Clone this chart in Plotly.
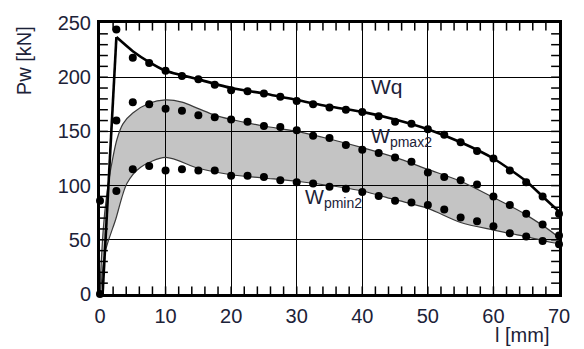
import plotly.graph_objects as go

# ---- data ----
x_pts = [0, 2.5, 5, 7.5, 10, 12.5, 15, 17.5, 20, 22.5, 25, 27.5, 30, 32.5, 35,
         37.5, 40, 42.5, 45, 47.5, 50, 52.5, 55, 57.5, 60, 62.5, 65, 67.5, 70]
wq_pts = [None, 244, 218, 213, 206, 201, 198, 193, 188, 187, 185, 182, 178, 175, 172,
          170, 168, 164, 159, 157, 152, 147, 140, 132, 125, 114, 103, 90, 74]
wpmax_pts = [86, 160, 177, 175, 171, 169, 165, 163, 161, 159, 155, 154, 151, 146, 144,
             137.5, 133, 130, 126, 122, 112, 108, 105, 101, 90, 82, 74, 64, 54]
wpmin_pts = [0, 95, 115, 118, 114, 115, 114, 114, 109, 109, 108, 105, 103, 102, 99,
             97, 94, 90.5, 86, 84.5, 82, 78, 70.5, 67, 62.5, 56, 53, 49, 46]

# fitted curves
wq_rise_x = [0.4, 2.5]
wq_rise_y = [0, 237]
wq_curve_x = [2.5, 5, 7.5, 10, 15, 20, 25, 30, 35, 40, 45, 50, 55, 60, 65, 67.5, 70]
wq_curve_y = [237, 224, 214, 206, 198, 190, 185, 179, 173, 168, 161, 152, 140, 125, 104, 90, 76]

upper_x = [0, 0.5, 1, 1.6, 2.6, 3.5, 5, 7.5, 10, 12.5, 15, 17.5, 20, 25, 30, 35, 40, 45, 50, 55, 60, 65, 70]
upper_y = [0, 60, 90, 114, 143, 157, 167, 176, 179, 177, 171, 165, 161, 155, 150, 143, 135, 126, 115, 104, 89, 73, 51]
lower_x = [0, 0.8, 2.4, 4.1, 6.2, 10, 15, 20, 25, 30, 35, 40, 45, 50, 55, 60, 65, 70]
lower_y = [0, 39, 69, 102, 117, 126, 116, 110, 107, 104, 100, 95, 87, 79, 66, 59, 53, 47]

# small inside tick positions
x_minor_ticks = [2, 4, 6, 8, 10, 12, 14, 16, 18, 20, 22, 24, 26, 28, 30, 32, 34, 36,
                 38, 40, 42, 44, 46, 48, 50, 52, 54, 56, 58, 60, 62, 64, 66, 68]
y_minor_ticks = [10, 20, 30, 40, 50, 60, 70, 80, 90, 100, 110, 120, 130, 140, 150,
                 160, 170, 180, 190, 200, 210, 220, 230, 240]

X_RANGE = [0, 70]
Y_RANGE = [0, 250]
TICK_DX = 1.2   # tick length in x units (~8 px)
TICK_DY = 7.0   # tick length in y units (~8 px)

FONT = "Liberation Sans, Arial, sans-serif"
TXT = "#1c2238"

fig = go.Figure()

band_x = upper_x + lower_x[::-1]
band_y = upper_y + lower_y[::-1]
fig.add_trace(go.Scatter(x=band_x, y=band_y, mode="lines", fill="toself",
                         fillcolor="rgba(0,0,0,0.23)",
                         line=dict(color="#3a3a3a", width=1.2, shape="spline", smoothing=0.8),
                         hoverinfo="skip", showlegend=False))

fig.add_trace(go.Scatter(x=wq_rise_x, y=wq_rise_y, mode="lines",
                         line=dict(color="black", width=2.6), showlegend=False))
fig.add_trace(go.Scatter(x=wq_curve_x, y=wq_curve_y, mode="lines",
                         line=dict(color="black", width=2.6, shape="spline", smoothing=0.6),
                         showlegend=False))

marker = dict(color="black", size=8)
for ys in (wq_pts, wpmax_pts, wpmin_pts):
    fig.add_trace(go.Scatter(x=x_pts, y=ys, mode="markers", marker=marker,
                             cliponaxis=False, showlegend=False))

# tick marks on all four sides, built from the tick position lists
tx, ty = [], []
for xv in x_minor_ticks:
    tx += [xv, xv, None, xv, xv, None]
    ty += [Y_RANGE[0], Y_RANGE[0] + TICK_DY, None, Y_RANGE[1] - TICK_DY, Y_RANGE[1], None]
for yv in y_minor_ticks:
    tx += [X_RANGE[0], X_RANGE[0] + TICK_DX, None, X_RANGE[1] - TICK_DX, X_RANGE[1], None]
    ty += [yv, yv, None, yv, yv, None]
fig.add_trace(go.Scatter(x=tx, y=ty, mode="lines", line=dict(color="black", width=1.5),
                         hoverinfo="skip", showlegend=False, connectgaps=False))

axis_common = dict(
    showline=True, linecolor="black", linewidth=3, mirror=True,
    showgrid=True, gridcolor="black", gridwidth=1.2,
    ticks="", zeroline=False, ticklabelstandoff=2,
    tickfont=dict(family=FONT, size=20, color=TXT),
)

fig.update_layout(
    width=584, height=349,
    margin=dict(l=100, r=25, t=14, b=55),
    paper_bgcolor="white", plot_bgcolor="white",
    xaxis=dict(range=X_RANGE, tickmode="linear", tick0=0, dtick=10, **axis_common),
    yaxis=dict(range=Y_RANGE, tickmode="linear", tick0=0, dtick=50, **axis_common),
    annotations=[
        dict(text="Pw [kN]", xref="paper", yref="paper", x=-0.165, y=0.86,
             xanchor="center", yanchor="middle",
             textangle=-90, showarrow=False, font=dict(family=FONT, size=20, color=TXT)),
        dict(text="l [mm]", xref="paper", yref="paper", x=0.92, y=-0.15,
             xanchor="center", yanchor="middle",
             showarrow=False, font=dict(family=FONT, size=20, color=TXT)),
        dict(text="Wq", x=43.8, y=191, xref="x", yref="y", showarrow=False,
             xanchor="center", yanchor="middle",
             font=dict(family=FONT, size=21, color=TXT)),
        dict(text="W<sub>pmax2</sub>", x=41.0, y=144, xref="x", yref="y", xanchor="left",
             yanchor="middle", showarrow=False, font=dict(family=FONT, size=20, color=TXT)),
        dict(text="W<sub>pmin2</sub>", x=31.0, y=88, xref="x", yref="y", xanchor="left",
             yanchor="middle", showarrow=False, font=dict(family=FONT, size=20, color=TXT)),
    ],
)

fig.write_html("out.html")
